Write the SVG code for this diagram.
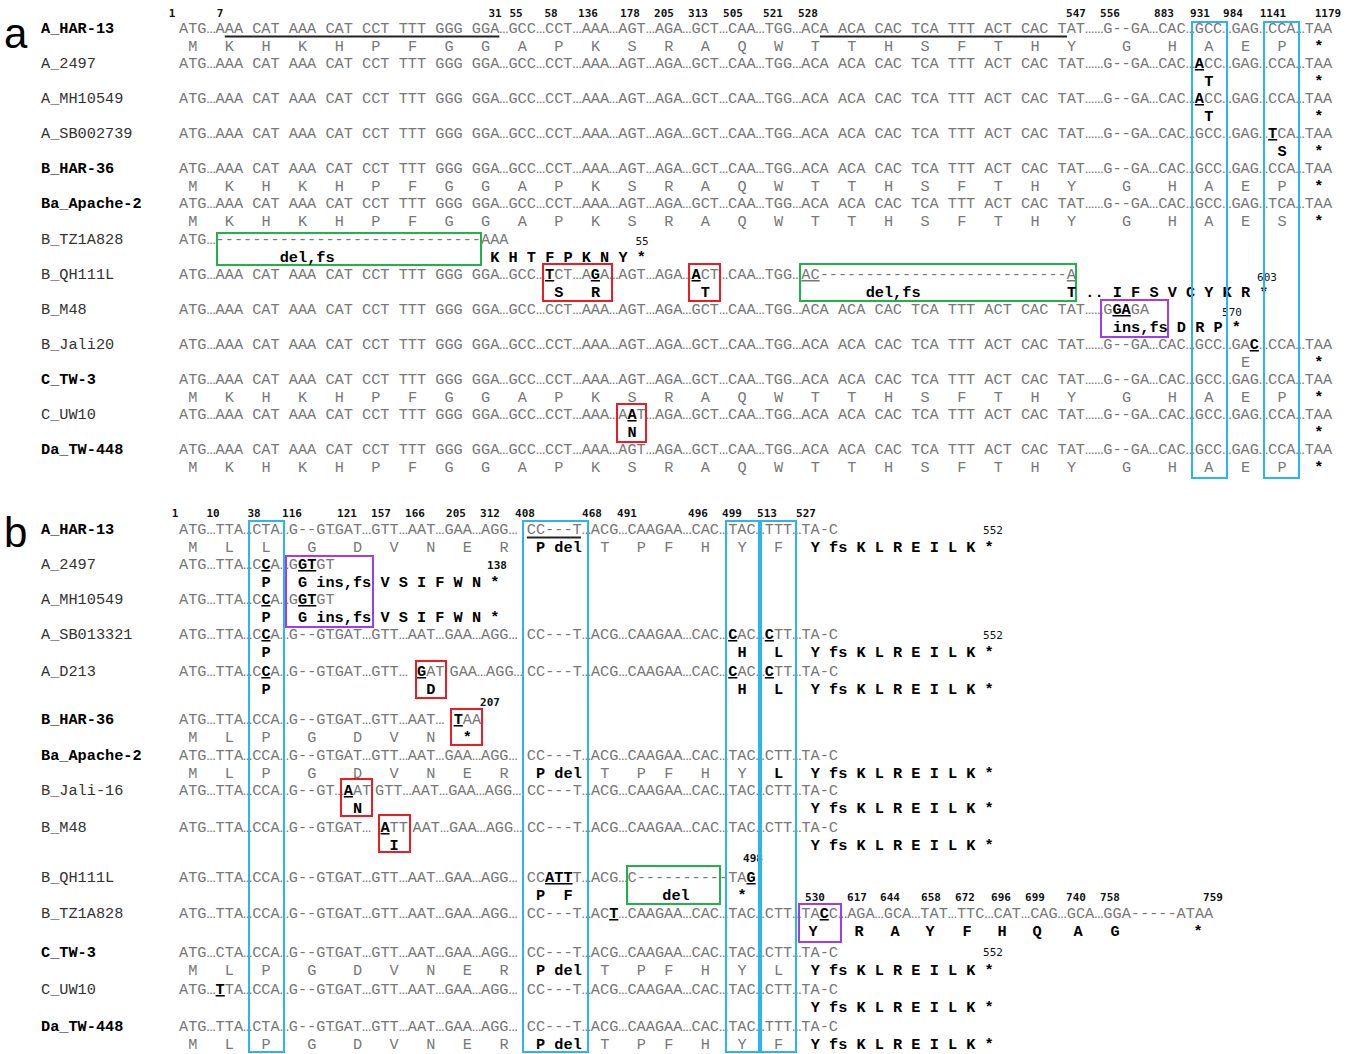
<svg xmlns="http://www.w3.org/2000/svg" width="1357" height="1054" viewBox="0 0 1357 1054">
<style>
text{font-family:"Liberation Mono","DejaVu Sans Mono",monospace;font-size:15.26px}
.nt{fill:#777}
.m{font-weight:bold;fill:#000;text-decoration:underline}
.u{text-decoration:underline}
.b{font-weight:bold;fill:#000}
.nm{fill:#333}
.nmb{fill:#000;font-weight:bold}
.sm{font-size:8px}
.num{font-family:"DejaVu Sans Mono",monospace;font-size:11px;font-weight:bold;fill:#111;text-anchor:middle}
.num2{font-family:"DejaVu Sans Mono",monospace;font-size:11px;fill:#111;text-anchor:middle}
.lbl{font-family:"Liberation Sans",Arial,sans-serif;font-size:42px;fill:#000}
.bl{fill:none;stroke:#2ab4f0;stroke-width:2}
.rd{fill:none;stroke:#ec1c24;stroke-width:2}
.gr{fill:none;stroke:#22b24c;stroke-width:2}
.pu{fill:none;stroke:#a03cf0;stroke-width:2}
.ul{stroke:#222;stroke-width:2}
</style>
<defs>
<text id="ntA" class="nt" x="179" y="0">ATG…AAA CAT AAA CAT CCT TTT GGG GGA…GCC…CCT…AAA…AGT…AGA…GCT…CAA…TGG…ACA ACA CAC TCA TTT ACT CAC TAT……G--GA…CAC…GCC…GAG…CCA…TAA</text>
<g id="aaA"><text class="nt" x="188.16 224.78 261.40 298.02 334.64 371.26 407.88 444.50 481.12 517.74 554.36 590.98 627.60 664.22 700.84 737.46 774.08 810.70 847.32 883.94 920.56 957.18 993.80 1030.42 1067.04 1121.97 1167.74 1204.36 1240.98" y="0">MKHKHPFGGAPKSRAQWTTHSFTHYGHAE</text><text class="b" x="1314.22" y="0">*</text></g>
<text id="s2T" class="nt" x="334.64" y="0">GAT…GTT…AAT…GAA…AGG… CC---T…ACG…CAAGAA…CAC…TAC…TTT…TA-C</text>
<text id="s2C" class="nt" x="334.64" y="0">GAT…GTT…AAT…GAA…AGG… CC---T…ACG…CAAGAA…CAC…TAC…CTT…TA-C</text>
<text id="dots" class="nt sm" x="331.8" y="0">…</text>
<text id="aaBP" class="nt" x="188.16 224.78 261.40 307.17 352.95 389.57 426.19 462.81 499.43" y="0">MLPGDVNER</text>
<text id="pdel" class="b" x="536.05" y="0">P del</text>
<text id="tpfhy" class="nt" x="600.13 636.75 664.22 700.84 737.46" y="0">TPFHY</text>
<text id="yfs" class="b" x="810.70" y="0">Y fs K L R E I L K *</text>
</defs>

<g id="panel-a">
<text class="lbl" x="4" y="48">a</text>
<g id="a-positions">
<text class="num" x="172" y="17">1</text><text class="num" x="220" y="17">7</text><text class="num" x="495" y="17">31</text><text class="num" x="516" y="17">55</text><text class="num" x="551" y="17">58</text><text class="num" x="588" y="17">136</text><text class="num" x="630" y="17">178</text><text class="num" x="664" y="17">205</text><text class="num" x="698" y="17">313</text><text class="num" x="733" y="17">505</text><text class="num" x="773" y="17">521</text><text class="num" x="808" y="17">528</text><text class="num" x="1076" y="17">547</text><text class="num" x="1110" y="17">556</text><text class="num" x="1164" y="17">883</text><text class="num" x="1200" y="17">931</text><text class="num" x="1233" y="17">984</text><text class="num" x="1273" y="17">1141</text><text class="num" x="1328" y="17">1179</text>
</g>
<g id="a-row0">
<text class="nmb" x="41" y="33">A_HAR-13</text>
<use href="#ntA" y="33"/>
<line class="ul" x1="224.8" y1="36.5" x2="499.4" y2="36.5"/>
<line class="ul" x1="819.9" y1="36.5" x2="1067" y2="36.5"/>
<use href="#aaA" y="51"/><text class="nt" x="1277.60" y="51">P</text>
</g>
<g id="a-row1">
<text class="nm" x="41" y="68">A_2497</text>
<text class="nt" x="179" y="68">ATG…AAA CAT AAA CAT CCT TTT GGG GGA…GCC…CCT…AAA…AGT…AGA…GCT…CAA…TGG…ACA ACA CAC TCA TTT ACT CAC TAT……G--GA…CAC…<tspan class="m">A</tspan>CC…GAG…CCA…TAA</text>
<text class="b" x="1204.36" y="86">T</text><text class="b" x="1314.22" y="86">*</text>
</g>
<g id="a-row2">
<text class="nm" x="41" y="103">A_MH10549</text>
<text class="nt" x="179" y="103">ATG…AAA CAT AAA CAT CCT TTT GGG GGA…GCC…CCT…AAA…AGT…AGA…GCT…CAA…TGG…ACA ACA CAC TCA TTT ACT CAC TAT……G--GA…CAC…<tspan class="m">A</tspan>CC…GAG…CCA…TAA</text>
<text class="b" x="1204.36" y="121">T</text><text class="b" x="1314.22" y="121">*</text>
</g>
<g id="a-row3">
<text class="nm" x="41" y="138">A_SB002739</text>
<text class="nt" x="179" y="138">ATG…AAA CAT AAA CAT CCT TTT GGG GGA…GCC…CCT…AAA…AGT…AGA…GCT…CAA…TGG…ACA ACA CAC TCA TTT ACT CAC TAT……G--GA…CAC…GCC…GAG…<tspan class="m">T</tspan>CA…TAA</text>
<text class="b" x="1277.60" y="156">S</text><text class="b" x="1314.22" y="156">*</text>
</g>
<g id="a-row4">
<text class="nmb" x="41" y="173">B_HAR-36</text>
<use href="#ntA" y="173"/>
<use href="#aaA" y="191"/><text class="nt" x="1277.60" y="191">P</text>
</g>
<g id="a-row5">
<text class="nmb" x="41" y="208">Ba_Apache-2</text>
<text class="nt" x="179" y="208">ATG…AAA CAT AAA CAT CCT TTT GGG GGA…GCC…CCT…AAA…AGT…AGA…GCT…CAA…TGG…ACA ACA CAC TCA TTT ACT CAC TAT……G--GA…CAC…GCC…GAG…TCA…TAA</text>
<use href="#aaA" y="226"/><text class="nt" x="1277.60" y="226">S</text>
</g>
<g id="a-row6">
<text class="nm" x="41" y="244">B_TZ1A828</text>
<text class="nt" x="179" y="244">ATG…-----------------------------AAA</text>
<rect class="gr" x="217" y="233" width="264" height="32"/>
<text class="b" x="279.70" y="262">del,fs</text>
<text class="b" x="490.27" y="262">K H T F P K N Y *</text>
<text class="num2" x="642" y="245">55</text>
</g>
<g id="a-row7">
<text class="nm" x="41" y="279">B_QH111L</text>
<text class="nt" x="179" y="279">ATG…AAA CAT AAA CAT CCT TTT GGG GGA…GCC…<tspan class="m">T</tspan>CT…A<tspan class="m">G</tspan>A…AGT…AGA…<tspan class="m">A</tspan>CT…CAA…TGG…<tspan class="u">AC</tspan>---------------------------<tspan class="u">A</tspan></text>
<rect class="rd" x="543" y="264" width="69" height="37"/>
<rect class="rd" x="689" y="264" width="31" height="37"/>
<rect class="gr" x="800" y="264" width="276" height="37"/>
<text class="b" x="554.36" y="297">S</text><text class="b" x="590.98" y="297">R</text><text class="b" x="700.84" y="297">T</text>
<text class="b" x="865.63" y="297">del,fs</text>
<text class="b" x="1067.04" y="297">T .. I F S V C Y K R *</text>
<text class="num2" x="1267" y="281">603</text>
</g>
<g id="a-row8">
<text class="nm" x="41" y="314">B_M48</text>
<text class="nt" x="179" y="314">ATG…AAA CAT AAA CAT CCT TTT GGG GGA…GCC…CCT…AAA…AGT…AGA…GCT…CAA…TGG…ACA ACA CAC TCA TTT ACT CAC TAT……G<tspan class="m">GA</tspan>GA</text>
<rect class="pu" x="1101" y="300" width="67" height="37"/>
<text class="b" x="1112.81" y="332">ins,fs D R P *</text>
<text class="num2" x="1232" y="316">570</text>
</g>
<g id="a-row9">
<text class="nm" x="41" y="349">B_Jali20</text>
<text class="nt" x="179" y="349">ATG…AAA CAT AAA CAT CCT TTT GGG GGA…GCC…CCT…AAA…AGT…AGA…GCT…CAA…TGG…ACA ACA CAC TCA TTT ACT CAC TAT……G--GA…CAC…GCC…GA<tspan class="m">C</tspan>…CCA…TAA</text>
<text class="nt" x="1240.98" y="367">E</text><text class="b" x="1314.22" y="367">*</text>
</g>
<g id="a-row10">
<text class="nmb" x="41" y="384">C_TW-3</text>
<use href="#ntA" y="384"/>
<use href="#aaA" y="402"/><text class="nt" x="1277.60" y="402">P</text>
</g>
<g id="a-row11">
<text class="nm" x="41" y="419">C_UW10</text>
<text class="nt" x="179" y="419">ATG…AAA CAT AAA CAT CCT TTT GGG GGA…GCC…CCT…AAA…A<tspan class="m">A</tspan>T…AGA…GCT…CAA…TGG…ACA ACA CAC TCA TTT ACT CAC TAT……G--GA…CAC…GCC…GAG…CCA…TAA</text>
<rect class="rd" x="617" y="404" width="29" height="38"/>
<text class="b" x="627.60" y="437">N</text><text class="b" x="1314.22" y="437">*</text>
</g>
<g id="a-row12">
<text class="nmb" x="41" y="454">Da_TW-448</text>
<use href="#ntA" y="454"/>
<use href="#aaA" y="472"/><text class="nt" x="1277.60" y="472">P</text>
</g>
<rect class="bl" x="1192" y="22" width="35" height="456"/>
<rect class="bl" x="1264" y="22" width="35" height="456"/>
</g>

<g id="panel-b">
<text class="lbl" x="4" y="547">b</text>
<g id="b-positions">
<text class="num" x="175" y="517">1</text><text class="num" x="213" y="517">10</text><text class="num" x="254" y="517">38</text><text class="num" x="292" y="517">116</text><text class="num" x="347" y="517">121</text><text class="num" x="381" y="517">157</text><text class="num" x="415" y="517">166</text><text class="num" x="456" y="517">205</text><text class="num" x="490" y="517">312</text><text class="num" x="525" y="517">408</text><text class="num" x="592" y="517">468</text><text class="num" x="627" y="517">491</text><text class="num" x="698" y="517">496</text><text class="num" x="732" y="517">499</text><text class="num" x="767" y="517">513</text><text class="num" x="806" y="517">527</text>
</g>
<g id="b-row0">
<text class="nmb" x="41" y="534">A_HAR-13</text>
<text class="nt" x="179" y="534">ATG…TTA…CTA…G--GT</text>
<use href="#dots" y="534"/>
<use href="#s2T" y="534"/>
<line class="ul" x1="526.9" y1="537.5" x2="581" y2="537.5"/>
<text class="nt" x="188.16 224.78 261.40 307.17 352.95 389.57 426.19 462.81 499.43" y="552">MLLGDVNER</text>
<use href="#pdel" y="552"/><use href="#tpfhy" y="552"/><text class="nt" x="774.08" y="552">F</text><use href="#yfs" y="552"/>
<text class="num2" x="993" y="534">552</text>
</g>
<g id="b-row1">
<text class="nm" x="41" y="569">A_2497</text>
<text class="nt" x="179" y="569">ATG…TTA…C<tspan class="m">C</tspan>A…G<tspan class="m">GT</tspan>GT</text>
<text class="b" x="261.40" y="587">P</text>
<text class="b" x="298.02" y="587">G ins,fs V S I F W N *</text>
<text class="num" x="497" y="569">138</text>
</g>
<g id="b-row2">
<text class="nm" x="41" y="604">A_MH10549</text>
<text class="nt" x="179" y="604">ATG…TTA…C<tspan class="m">C</tspan>A…G<tspan class="m">GT</tspan>GT</text>
<text class="b" x="261.40" y="622">P</text>
<text class="b" x="298.02" y="622">G ins,fs V S I F W N *</text>
</g>
<rect class="pu" x="286" y="556" width="87" height="71"/>
<g id="b-row3">
<text class="nm" x="41" y="639">A_SB013321</text>
<text class="nt" x="179" y="639">ATG…TTA…C<tspan class="m">C</tspan>A…G--GT</text>
<use href="#dots" y="639"/>
<text class="nt" x="334.64" y="639">GAT…GTT…AAT…GAA…AGG… CC---T…ACG…CAAGAA…CAC…<tspan class="m">C</tspan>AC…<tspan class="m">C</tspan>TT…TA-C</text>
<text class="b" x="261.40" y="657">P</text><text class="b" x="737.46" y="657">H</text><text class="b" x="774.08" y="657">L</text><use href="#yfs" y="657"/>
<text class="num2" x="993" y="639">552</text>
</g>
<g id="b-row4">
<text class="nm" x="41" y="676">A_D213</text>
<text class="nt" x="179" y="676">ATG…TTA…C<tspan class="m">C</tspan>A…G--GT</text>
<use href="#dots" y="676"/>
<text class="nt" y="676"><tspan x="334.64">GAT…GTT…</tspan><tspan x="417.03"><tspan class="m">G</tspan>AT</tspan><tspan x="449.5">GAA…AGG…</tspan><tspan x="526.89">CC---T…ACG…CAAGAA…CAC…<tspan class="m">C</tspan>AC…<tspan class="m">C</tspan>TT…TA-C</tspan></text>
<rect class="rd" x="416" y="661" width="30" height="37"/>
<text class="b" x="261.40" y="694">P</text><text class="b" x="426.19" y="694">D</text><text class="b" x="737.46" y="694">H</text><text class="b" x="774.08" y="694">L</text><use href="#yfs" y="694"/>
</g>
<g id="b-row5">
<text class="nmb" x="41" y="724">B_HAR-36</text>
<text class="nt" x="179" y="724">ATG…TTA…CCA…G--GT</text>
<use href="#dots" y="724"/>
<text class="nt" y="724"><tspan x="334.64">GAT…GTT…AAT…</tspan><tspan x="453.65"><tspan class="m">T</tspan>AA</tspan></text>
<rect class="rd" x="451" y="709" width="31" height="36"/>
<text class="nt" x="188.16 224.78 261.40 307.17 352.95 389.57 426.19" y="742">MLPGDVN</text><text class="b" x="462.81" y="742">*</text>
<text class="num" x="490" y="706">207</text>
</g>
<g id="b-row6">
<text class="nmb" x="41" y="760">Ba_Apache-2</text>
<text class="nt" x="179" y="760">ATG…TTA…CCA…G--GT</text>
<use href="#dots" y="760"/>
<use href="#s2C" y="760"/>
<use href="#aaBP" y="778"/><use href="#pdel" y="778"/><use href="#tpfhy" y="778"/><text class="b" x="774.08" y="778">L</text><use href="#yfs" y="778"/>
</g>
<g id="b-row7">
<text class="nm" x="41" y="795">B_Jali-16</text>
<text class="nt" x="179" y="795">ATG…TTA…CCA…G--GT…</text>
<text class="nt" y="795"><tspan x="343.79"><tspan class="m">A</tspan>AT</tspan><tspan x="375">GTT…AAT…GAA…AGG…</tspan><tspan x="526.89">CC---T…ACG…CAAGAA…CAC…TAC…CTT…TA-C</tspan></text>
<rect class="rd" x="341" y="779" width="31" height="37"/>
<text class="b" x="352.95" y="813">N</text><use href="#yfs" y="813"/>
</g>
<g id="b-row8">
<text class="nm" x="41" y="832">B_M48</text>
<text class="nt" x="179" y="832">ATG…TTA…CCA…G--GT</text>
<use href="#dots" y="832"/>
<text class="nt" y="832"><tspan x="334.64">GAT…</tspan><tspan x="380.41"><tspan class="m">A</tspan>TT</tspan><tspan x="412.5">AAT…GAA…AGG…</tspan><tspan x="526.89">CC---T…ACG…CAAGAA…CAC…TAC…CTT…TA-C</tspan></text>
<rect class="rd" x="379" y="815" width="31" height="37"/>
<text class="b" x="389.57" y="850">I</text><use href="#yfs" y="850"/>
</g>
<g id="b-row9">
<text class="nm" x="41" y="882">B_QH111L</text>
<text class="nt" x="179" y="882">ATG…TTA…CCA…G--GT</text>
<use href="#dots" y="882"/>
<text class="nt" x="334.64" y="882">GAT…GTT…AAT…GAA…AGG… CC<tspan class="m">ATT</tspan>T…ACG…C----------TA<tspan class="m">G</tspan></text>
<rect class="gr" x="627" y="866" width="93" height="38"/>
<text class="b" x="676" y="900" text-anchor="middle">del</text>
<text class="b" x="536.05" y="900">P</text><text class="b" x="563.51" y="900">F</text><text class="b" x="737.46" y="900">*</text>
<text class="num" x="753" y="862">498</text>
</g>
<g id="b-row10">
<text class="nm" x="41" y="918">B_TZ1A828</text>
<text class="nt" x="179" y="918">ATG…TTA…CCA…G--GT</text>
<use href="#dots" y="918"/>
<text class="nt" x="334.64" y="918">GAT…GTT…AAT…GAA…AGG… CC---T…AC<tspan class="m">T</tspan>…CAAGAA…CAC…TAC…CTT…TA<tspan class="m">C</tspan>C…AGA…GCA…TAT…TTC…CAT…CAG…GCA…GGA-----ATAA</text>
<rect class="pu" x="799" y="904" width="42" height="38"/>
<text class="num" x="815" y="901">530</text><text class="num" x="857" y="901">617</text><text class="num" x="890" y="901">644</text><text class="num" x="931" y="901">658</text><text class="num" x="965" y="901">672</text><text class="num" x="1001" y="901">696</text><text class="num" x="1035" y="901">699</text><text class="num" x="1076" y="901">740</text><text class="num" x="1110" y="901">758</text><text class="num" x="1213" y="901">759</text>
<text class="b" text-anchor="middle" y="936"><tspan x="813">Y</tspan><tspan x="859">R</tspan><tspan x="895">A</tspan><tspan x="930">Y</tspan><tspan x="967">F</tspan><tspan x="1002">H</tspan><tspan x="1037">Q</tspan><tspan x="1078">A</tspan><tspan x="1115">G</tspan><tspan x="1198">*</tspan></text>
</g>
<g id="b-row11">
<text class="nmb" x="41" y="957">C_TW-3</text>
<text class="nt" x="179" y="957">ATG…CTA…CCA…G--GT</text>
<use href="#dots" y="957"/>
<use href="#s2C" y="957"/>
<use href="#aaBP" y="975"/><use href="#pdel" y="975"/><use href="#tpfhy" y="975"/><text class="nt" x="774.08" y="975">L</text><use href="#yfs" y="975"/>
<text class="num2" x="993" y="956">552</text>
</g>
<g id="b-row12">
<text class="nm" x="41" y="994">C_UW10</text>
<text class="nt" x="179" y="994">ATG…<tspan class="m">T</tspan>TA…CCA…G--GT</text>
<use href="#dots" y="994"/>
<use href="#s2C" y="994"/>
<use href="#yfs" y="1012"/>
</g>
<g id="b-row13">
<text class="nmb" x="41" y="1031">Da_TW-448</text>
<text class="nt" x="179" y="1031">ATG…TTA…CTA…G--GT</text>
<use href="#dots" y="1031"/>
<use href="#s2T" y="1031"/>
<use href="#aaBP" y="1049"/><use href="#pdel" y="1049"/><use href="#tpfhy" y="1049"/><text class="nt" x="774.08" y="1049">F</text><use href="#yfs" y="1049"/>
</g>
<rect class="bl" x="249" y="521" width="35" height="531"/>
<rect class="bl" x="523" y="521" width="65" height="531"/>
<rect class="bl" x="726" y="521" width="33" height="531"/>
<rect class="bl" x="761" y="521" width="35" height="531"/>
</g>
</svg>
